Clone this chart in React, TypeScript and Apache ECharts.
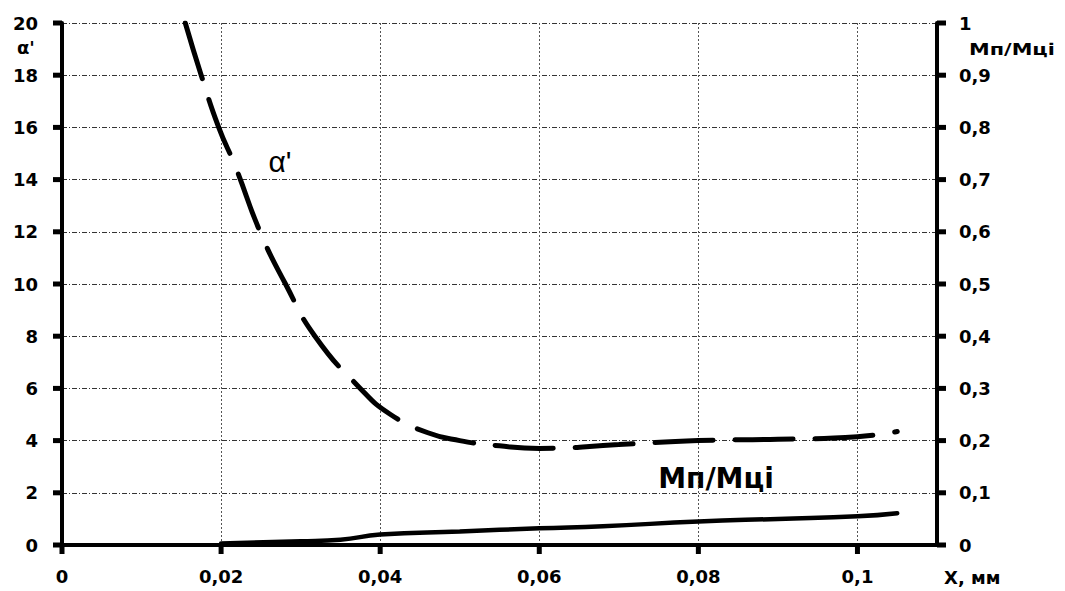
import React, { useEffect, useRef } from "react";
import * as echarts from "echarts";

const alphaData: [number, number][] = [
  [0.0155, 20], [0.0175, 18], [0.0197, 16], [0.0218, 14.5], [0.0249, 12], [0.0281, 10],
  [0.0318, 8], [0.0375, 6], [0.0413, 5], [0.046, 4.3], [0.05, 4.0], [0.055, 3.8],
  [0.06, 3.7], [0.07, 3.85], [0.08, 4.0], [0.09, 4.05], [0.1, 4.15], [0.105, 4.35],
];
const ratioData: [number, number][] = [
  [0.02, 0.003], [0.03, 0.007], [0.035, 0.01], [0.04, 0.02], [0.05, 0.026], [0.06, 0.032],
  [0.068, 0.036], [0.08, 0.045], [0.09, 0.05], [0.1, 0.055], [0.105, 0.061],
];
const xTicks = { min: 0, max: 0.11, interval: 0.02 };
const leftTicks = { min: 0, max: 20, interval: 2 };
const rightTicks = { min: 0, max: 1, interval: 0.1 };
const xTickValues = [0, 0.02, 0.04, 0.06, 0.08, 0.1];
const leftTickValues = [0, 2, 4, 6, 8, 10, 12, 14, 16, 18, 20];
const rightTickValues = [0, 0.1, 0.2, 0.3, 0.4, 0.5, 0.6, 0.7, 0.8, 0.9, 1];

const FONT = "'DejaVu Sans', Arial, sans-serif";
const SANS = "'Liberation Sans', Arial, sans-serif";

const fmt = (v: number, digits: number) => {
  if (v === 0) return "0";
  const s = parseFloat(v.toFixed(digits)).toString();
  return s.replace(".", ",");
};

export default function App() {
  const ref = useRef<HTMLDivElement>(null);
  useEffect(() => {
    const chart = echarts.init(ref.current!, null, { renderer: "svg" });
    const labelStyle = { color: "#000", fontFamily: FONT, fontWeight: "bold" as const, fontSize: 18 };
    const texts: any[] = [
      {
        type: "text",
        x: 17,
        y: 38,
        style: { text: "α'", fill: "#000", font: `bold 18px ${FONT}` },
      },
      {
        type: "text",
        x: 969,
        y: 41,
        scaleX: 1.3,
        style: { text: "Mп/Mці", fill: "#000", font: `bold 16px ${FONT}` },
      },
      {
        type: "text",
        x: 944,
        y: 568,
        style: { text: "X, мм", fill: "#000", font: `bold 18px ${FONT}` },
      },
      {
        type: "rect",
        shape: { x: 260, y: 176, width: 63, height: 7 },
        style: { fill: "#fff" },
      },
      {
        type: "text",
        x: 280,
        y: 161,
        style: {
          text: "α'",
          fill: "#000",
          font: `30px ${SANS}`,
          align: "center",
          verticalAlign: "middle",
        },
      },
      {
        type: "rect",
        shape: { x: 650, y: 489, width: 133, height: 7 },
        style: { fill: "#fff" },
      },
      {
        type: "text",
        x: 716,
        y: 478,
        style: {
          text: "Mп/Mці",
          fill: "#000",
          font: `bold 28px ${FONT}`,
          align: "center",
          verticalAlign: "middle",
        },
      },
    ];
    chart.setOption({
      animation: false,
      backgroundColor: "#fff",
      grid: { left: 62, right: 128, top: 23, bottom: 46, containLabel: false },
      xAxis: {
        type: "value",
        min: xTicks.min,
        max: xTicks.max,
        interval: xTicks.interval,
        axisLine: { show: true, lineStyle: { color: "#000", width: 4 } },
        axisTick: { show: false },
        axisLabel: {
          ...labelStyle,
          margin: 22,
          formatter: (v: number) => (v > 0.105 ? "" : fmt(v, 2)),
        },
        splitLine: { show: true, lineStyle: { color: "#555", width: 1, type: [2, 2] } },
      },
      yAxis: [
        {
          type: "value",
          min: leftTicks.min,
          max: leftTicks.max,
          interval: leftTicks.interval,
          axisLine: { show: true, lineStyle: { color: "#000", width: 4 } },
          axisTick: { show: false },
          axisLabel: { ...labelStyle, margin: 24 },
          splitLine: { show: true, lineStyle: { color: "#333", width: 1, type: [5, 2, 1, 2] } },
        },
        {
          type: "value",
          min: rightTicks.min,
          max: rightTicks.max,
          interval: rightTicks.interval,
          position: "right",
          axisLine: { show: true, lineStyle: { color: "#000", width: 4 } },
          axisTick: { show: false },
          axisLabel: { ...labelStyle, margin: 22, formatter: (v: number) => fmt(v, 1) },
          splitLine: { show: false },
        },
      ],
      series: [
        {
          type: "line",
          name: "α'",
          data: alphaData,
          yAxisIndex: 0,
          smooth: true,
          showSymbol: false,
          lineStyle: { color: "#000", width: 5, type: [58, 22], cap: "round" },
        },
        {
          type: "line",
          name: "Mп/Mці",
          data: ratioData,
          yAxisIndex: 1,
          smooth: true,
          showSymbol: false,
          lineStyle: { color: "#000", width: 4.5, cap: "round" },
        },
      ],
      graphic: texts,
    });

    // Tick marks, positioned through the axes' own scales
    const x0 = chart.convertToPixel({ xAxisIndex: 0 }, xTicks.min) as number;
    const x1 = chart.convertToPixel({ xAxisIndex: 0 }, xTicks.max) as number;
    const yBase = chart.convertToPixel({ yAxisIndex: 0 }, leftTicks.min) as number;
    const tickStyle = { stroke: "#000", lineWidth: 5 };
    const ticks: any[] = [];
    xTickValues.forEach((v) => {
      const px = chart.convertToPixel({ xAxisIndex: 0 }, v) as number;
      ticks.push({ type: "line", shape: { x1: px, y1: yBase, x2: px, y2: yBase + 9 }, style: tickStyle });
    });
    leftTickValues.forEach((v) => {
      const py = chart.convertToPixel({ yAxisIndex: 0 }, v) as number;
      ticks.push({ type: "line", shape: { x1: x0 - 9, y1: py, x2: x0, y2: py }, style: tickStyle });
    });
    rightTickValues.forEach((v) => {
      const py = chart.convertToPixel({ yAxisIndex: 1 }, v) as number;
      ticks.push({ type: "line", shape: { x1: x1, y1: py, x2: x1 + 9, y2: py }, style: tickStyle });
    });
    chart.setOption({ graphic: [...texts, ...ticks] });
    return () => chart.dispose();
  }, []);
  return <div ref={ref} style={{ width: 1065, height: 591, position: "absolute", left: 0, top: 0 }} />;
}
